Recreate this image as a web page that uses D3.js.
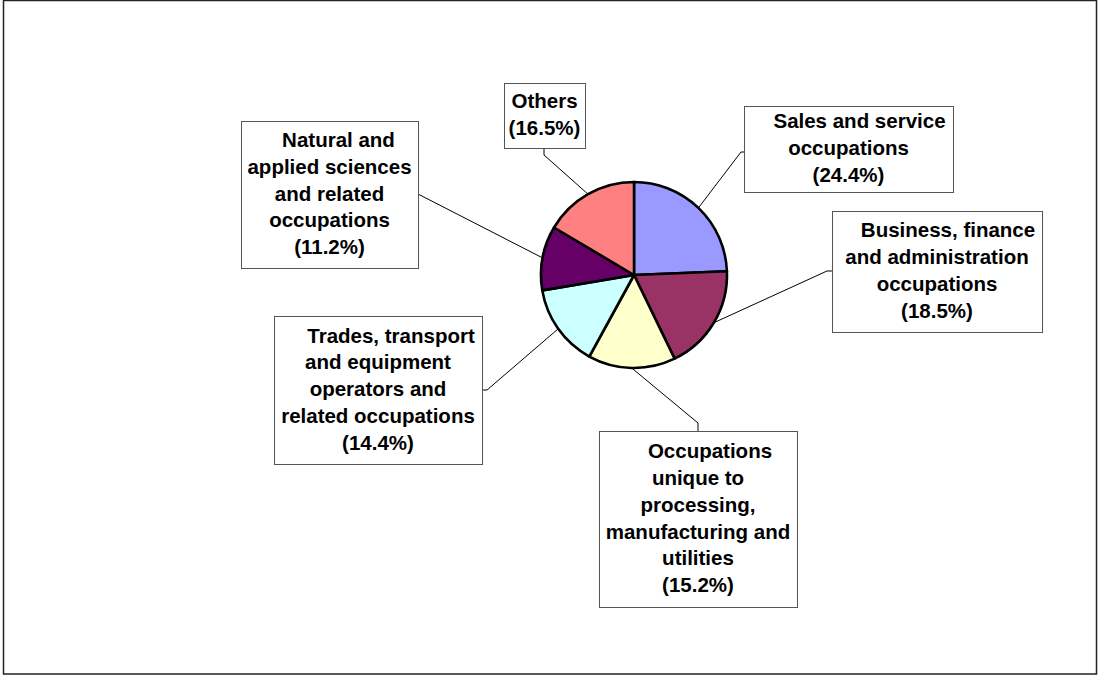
<!DOCTYPE html>
<html>
<head>
<meta charset="utf-8">
<script src="https://cdn.jsdelivr.net/npm/d3@7"></script>
<style>
  html, body { margin: 0; padding: 0; background: #fff; }
  svg { display: block; }
  text { font-family: "Liberation Sans", Arial, sans-serif; font-weight: bold; }
</style>
</head>
<body>
<svg id="chart" width="1101" height="677"></svg>
<script>
// ---- data ----
const categories = [
  "Sales and service occupations",
  "Business, finance and administration occupations",
  "Occupations unique to processing, manufacturing and utilities",
  "Trades, transport and equipment operators and related occupations",
  "Natural and applied sciences and related occupations",
  "Others"
];
const values = [24.4, 18.5, 15.2, 14.4, 11.2, 16.5];
const labelLines = [
  ["Sales and service", "occupations"],
  ["Business, finance", "and administration", "occupations"],
  ["Occupations", "unique to", "processing,", "manufacturing and", "utilities"],
  ["Trades, transport", "and equipment", "operators and", "related occupations"],
  ["Natural and", "applied sciences", "and related", "occupations"],
  ["Others"]
];
const colors = ["#9999FF", "#993366", "#FFFFCC", "#CCFFFF", "#660066", "#FF8080"];

// ---- layout (positions of label boxes) ----
const boxes = [
  {x: 744, y: 106, w: 209, h: 86,  anchor: [744, 152], stub: [741, 152], firstDx: 11},
  {x: 832, y: 211, w: 210, h: 121, anchor: [832, 271], stub: [827, 271], firstDx: 11},
  {x: 599, y: 431, w: 198, h: 176, anchor: [698, 431], stub: [698, 423], firstDx: 12},
  {x: 274, y: 316, w: 208, h: 148, anchor: [482, 390], stub: [487, 390], firstDx: 13},
  {x: 241, y: 121, w: 177, h: 147, anchor: [418, 194], stub: [418, 194], firstDx: 9},
  {x: 504, y: 83,  w: 81,  h: 65,  anchor: [544, 148], stub: [544, 155], firstDx: 0}
];
const cx = 634, cy = 275, radius = 93;
const fontSize = 20.5, lineH = 26.8;

const svg = d3.select("#chart");

// outer border
svg.append("rect")
  .attr("x", 3.5).attr("y", 0.5).attr("width", 1093).attr("height", 673.5)
  .attr("fill", "none").attr("stroke", "#222").attr("stroke-width", 1.5);

const pie = d3.pie().sort(null).value(d => d);
const arcs = pie(values);
const arc = d3.arc().innerRadius(0).outerRadius(radius);
const edgeArc = d3.arc().innerRadius(radius).outerRadius(radius);

const g = svg.append("g").attr("transform", `translate(${cx},${cy})`);

// leader lines
arcs.forEach((a, i) => {
  const b = boxes[i];
  const p = edgeArc.centroid(a);
  const pts = [[cx + p[0], cy + p[1]], b.stub, b.anchor];
  svg.append("path")
    .attr("d", d3.line()(pts))
    .attr("fill", "none").attr("stroke", "#000").attr("stroke-width", 1);
});

// slices
g.selectAll("path.slice").data(arcs).enter().append("path")
  .attr("class", "slice")
  .attr("d", arc)
  .attr("fill", (d, i) => colors[i])
  .attr("stroke", "#000").attr("stroke-width", 2.6)
  .attr("stroke-linejoin", "round");

// label boxes
arcs.forEach((a, i) => {
  const b = boxes[i];
  svg.append("rect")
    .attr("x", b.x + 0.5).attr("y", b.y + 0.5).attr("width", b.w).attr("height", b.h)
    .attr("fill", "#fff").attr("stroke", "#555").attr("stroke-width", 1);
  const lines = labelLines[i].concat([`(${values[i].toFixed(1)}%)`]);
  const n = lines.length;
  const mx = b.x + b.w / 2, my = b.y + b.h / 2;
  const t = svg.append("text")
    .attr("text-anchor", "middle")
    .attr("font-size", fontSize)
    .attr("fill", "#000");
  lines.forEach((ln, j) => {
    t.append("tspan")
      .attr("x", mx + (j === 0 ? b.firstDx : 0))
      .attr("y", my + (j - (n - 1) / 2) * lineH + fontSize * 0.3)
      .text(ln);
  });
});
</script>
</body>
</html>
